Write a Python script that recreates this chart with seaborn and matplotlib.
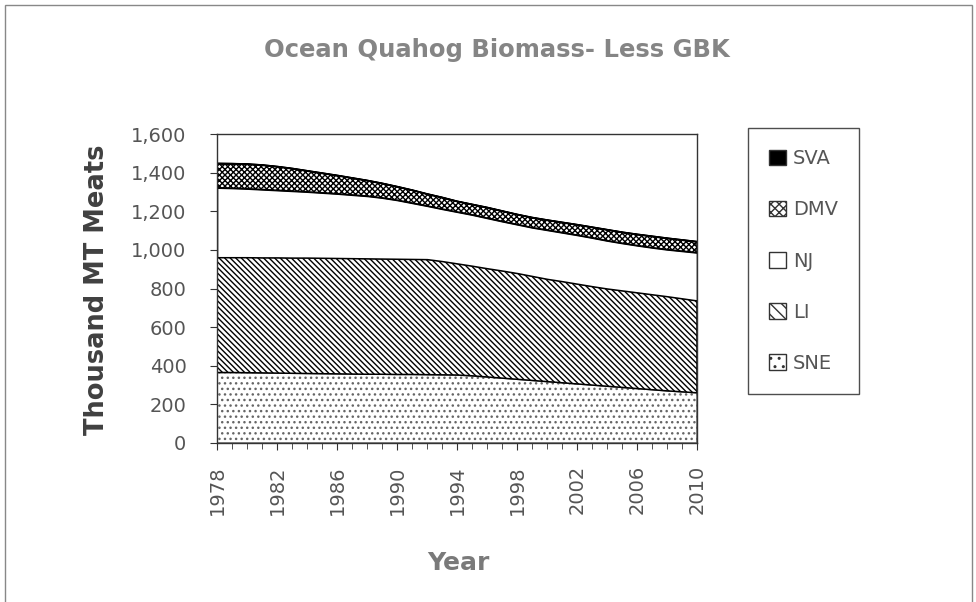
import pandas as pd
import matplotlib
matplotlib.use('Agg')
import matplotlib.pyplot as plt
import seaborn as sns
from matplotlib.patches import Patch, Rectangle
from matplotlib.ticker import MultipleLocator, FuncFormatter

# biomass by region, thousand MT meats
years = list(range(1978, 2011))
sne = [365, 365, 364, 363, 362, 361, 360, 359, 358, 357, 356, 356, 355, 355, 354, 353, 352,
       348, 342, 336, 330, 324, 318, 312, 306, 300, 294, 288, 282, 276, 270, 265, 260]
li = [597, 597, 598, 598, 599, 599, 600, 600, 600, 600, 600, 599, 599, 598, 598, 589, 578,
      570, 563, 557, 550, 541, 532, 526, 519, 512, 506, 502, 498, 494, 490, 484, 478]
nj = [360, 358, 355, 352, 348, 345, 341, 337, 333, 328, 323, 315, 304, 290, 276, 270, 267,
      264, 260, 255, 252, 251, 253, 252, 252, 251, 248, 245, 243, 242, 242, 245, 248]
dmv = [126, 127, 128, 127, 123, 117, 109, 102, 95, 88, 81, 75, 70, 67, 62, 60, 55,
       54, 55, 54, 52, 52, 52, 53, 54, 55, 57, 57, 58, 59, 59, 58, 57]
sva = [2, 2, 2, 2, 2, 2, 2, 2, 2, 2, 2, 2, 2, 2, 2, 2, 2,
       2, 2, 2, 2, 2, 2, 2, 2, 2, 2, 2, 2, 2, 2, 2, 2]

regions = ['SVA', 'DMV', 'NJ', 'LI', 'SNE']
series = {'SVA': sva, 'DMV': dmv, 'NJ': nj, 'LI': li, 'SNE': sne}

# fill colours are kept slightly different so the collections can be told apart
palette = {'SVA': '#000000', 'DMV': '#fefefe', 'NJ': '#ffffff', 'LI': '#fdfdfd', 'SNE': '#fcfcfc'}
BS = chr(92)  # backslash hatch
hatches = {'SVA': None, 'DMV': 'xxxxxx', 'NJ': None, 'LI': BS * 6, 'SNE': '...'}
legend_hatches = {'SVA': None, 'DMV': 'xxxx', 'NJ': None, 'LI': BS * 3, 'SNE': '..'}

rows = []
for reg in regions:
    for yr, val in zip(years, series[reg]):
        rows.append({'Year': yr, 'Region': reg, 'Biomass': val})
df = pd.DataFrame(rows)

sns.set_style('white')
plt.rcParams['font.family'] = ['DejaVu Sans']
plt.rcParams['hatch.linewidth'] = 1.0

fig = plt.figure(figsize=(9.76, 6.02), dpi=100)
ax = fig.add_axes([217 / 976, 1 - 443 / 602, 480 / 976, 309 / 602])

sns.histplot(data=df, x='Year', weights='Biomass', hue='Region', hue_order=regions,
             multiple='stack', element='poly', discrete=True, palette=palette,
             alpha=1, edgecolor='black', linewidth=1.1, legend=False, ax=ax)

lookup = {matplotlib.colors.to_hex(c): r for r, c in palette.items()}
for coll in ax.collections:
    fc = coll.get_facecolor()
    if len(fc) == 0:
        continue
    reg = lookup.get(matplotlib.colors.to_hex(fc[0]))
    if reg is None:
        continue
    if hatches[reg]:
        coll.set_hatch(hatches[reg])
    coll.set_facecolor('black' if reg == 'SVA' else 'white')
    if reg == 'SNE':
        # lighter dots, the outline is redrawn by the LI band above
        coll.set_edgecolor('#666666')
        coll.set_zorder(0.5)

ax.set_xlim(1978, 2010)
ax.set_ylim(0, 1600)
ax.set_xlabel('')
ax.set_ylabel('')
ax.set_xticks(range(1978, 2011, 4))
ax.xaxis.set_minor_locator(MultipleLocator(1))
ax.set_yticks(range(0, 1601, 200))
ax.yaxis.set_major_formatter(FuncFormatter(lambda v, p: f'{int(v):,}'))
ax.tick_params(axis='x', which='major', direction='out', length=5, width=0.8,
               colors='#333333', labelcolor='#555555', labelsize=14, labelrotation=90, pad=11,
               bottom=True)
ax.tick_params(axis='x', which='minor', direction='out', length=4, width=0.6,
               colors='#333333', bottom=True)
ax.tick_params(axis='y', direction='out', length=5, width=0.8, colors='#333333',
               labelcolor='#555555', labelsize=14, pad=17, left=True)
for sp in ax.spines.values():
    sp.set_visible(True)
    sp.set_color('#333333')
    sp.set_linewidth(1.0)

handles = []
for reg in regions:
    handles.append(Patch(facecolor='black' if reg == 'SVA' else 'white', edgecolor='#333333',
                         hatch=legend_hatches[reg], label=reg))
leg = fig.legend(handles=handles, loc='upper left', bbox_to_anchor=(748 / 976, 1 - 128 / 602),
                 bbox_transform=fig.transFigure, frameon=True, fancybox=False, fontsize=14,
                 labelspacing=1.65, handlelength=0.85, handleheight=0.85, handletextpad=0.35,
                 borderpad=1.1, borderaxespad=0)
leg.get_frame().set_edgecolor('#222222')
leg.get_frame().set_linewidth(1.0)
for t in leg.get_texts():
    t.set_color('#555555')

fig.text(497 / 976, 1 - 50 / 602, 'Ocean Quahog Biomass- Less GBK', ha='center', va='center',
         fontsize=17.5, fontweight='bold', color='#858585')
fig.text(97 / 976, 1 - 290 / 602, 'Thousand MT Meats', ha='center', va='center', rotation=90,
         fontsize=18.5, fontweight='bold', color='#404040')
fig.text(458 / 976, 1 - 563 / 602, 'Year', ha='center', va='center',
         fontsize=18, fontweight='bold', color='#7a7a7a')

fig.add_artist(Rectangle((5 / 976, -0.01), 967 / 976, 1 - 5 / 602 + 0.01, transform=fig.transFigure,
                         fill=False, edgecolor='#888888', linewidth=1.0))

fig.savefig('out.png', dpi=100)
plt.close(fig)
